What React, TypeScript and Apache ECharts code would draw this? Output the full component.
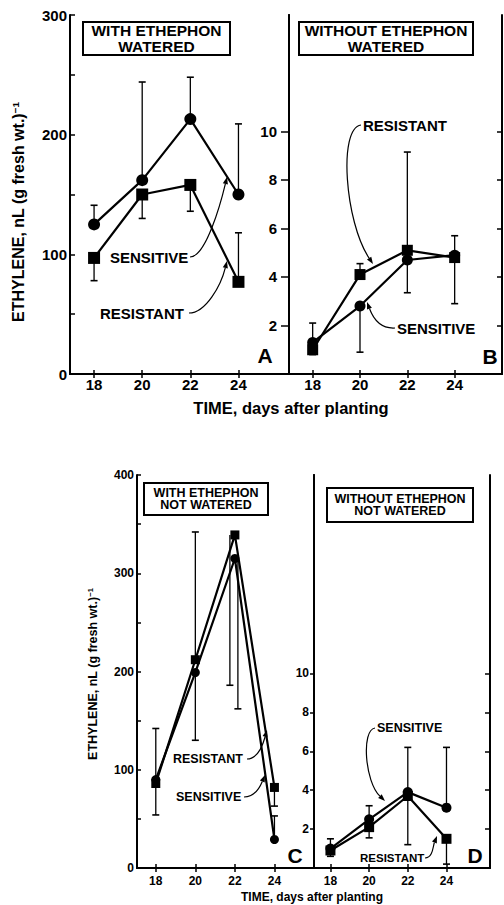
import React, { useEffect, useRef } from "react";
import * as echarts from "echarts";

// ---------- data ----------
const days = [18, 20, 22, 24];
const xTickValues = [18, 20, 22, 24];

const aSensitive = [125, 162, 213, 150];
const aSensitiveErr = [141, 244, 248, 209];
const aResistant = [97, 150, 158, 77];
const aResistantErr = [78, 130, 136, 118];

const bSensitive = [1.3, 2.8, 4.7, 4.9];
const bSensitiveErr = [2.1, 0.9, 3.35, 5.7];
const bResistant = [1.0, 4.1, 5.1, 4.8];
const bResistantErr = [0.8, 4.55, 9.15, 2.9];

const cSensitive = [90, 199, 315, 29];
const cSensitiveErr = [142, 130, 162, 53];
const cResistant = [86, 212, 339, 82];
const cResistantErr = [54, 342, 186, 63];

const dSensitive = [1.0, 2.5, 3.9, 3.1];
const dSensitiveErr = [1.5, 3.2, 6.2, 6.2];
const dResistant = [0.9, 2.1, 3.7, 1.5];
const dResistantErr = [0.6, 1.55, 1.2, 0.2];

const yTicksA = [0, 50, 100, 150, 200, 250, 300];
const yLabelsA = [0, 100, 200, 300];
const yLabelsB = [2, 4, 6, 8, 10];
const yTicksC = [0, 50, 100, 150, 200, 250, 300, 350, 400];
const yLabelsC = [0, 100, 200, 300, 400];
const yLabelsD = [2, 4, 6, 8, 10];

const FONT = '"Liberation Sans", Arial, Helvetica, sans-serif';

type Panel = {
  grid: { left: number; top: number; width: number; height: number };
  xMin: number;
  xMax: number;
  yMax: number;
  yLabels: number[];
  yTicks: number[];
  leftTickInside: boolean;
  leftTickLen: number;
  leftLabelMargin: number;
  rightTicks: boolean;
  sens: number[];
  sensErr: number[];
  res: number[];
  resErr: number[];
  fontSize: number;
  xLabelMargin: number;
  markerSize: number;
  sensOffset: number[];
  resOffset: number[];
};

const panels: Panel[] = [
  {
    grid: { left: 70, top: 15, width: 219, height: 359 },
    xMin: 17, xMax: 26.1, yMax: 300,
    yLabels: yLabelsA, yTicks: yTicksA,
    leftTickInside: true, leftTickLen: 5, leftLabelMargin: 3,
    rightTicks: false,
    sens: aSensitive, sensErr: aSensitiveErr, res: aResistant, resErr: aResistantErr,
    fontSize: 15, xLabelMargin: 3, markerSize: 12,
    sensOffset: [0, 0, 0, 0], resOffset: [0, 0, 0, 0],
  },
  {
    grid: { left: 289, top: 15, width: 213, height: 359 },
    xMin: 17, xMax: 26, yMax: 14.8,
    yLabels: yLabelsB, yTicks: yLabelsB,
    leftTickInside: false, leftTickLen: 8, leftLabelMargin: 12,
    rightTicks: true,
    sens: bSensitive, sensErr: bSensitiveErr, res: bResistant, resErr: bResistantErr,
    fontSize: 15, xLabelMargin: 3, markerSize: 11,
    sensOffset: [0, 0, 0, 0], resOffset: [0, 0, 0, 0],
  },
  {
    grid: { left: 137, top: 475, width: 177, height: 393 },
    xMin: 17.05, xMax: 26, yMax: 400,
    yLabels: yLabelsC, yTicks: yTicksC,
    leftTickInside: true, leftTickLen: 4, leftLabelMargin: 3,
    rightTicks: false,
    sens: cSensitive, sensErr: cSensitiveErr, res: cResistant, resErr: cResistantErr,
    fontSize: 12, xLabelMargin: 7, markerSize: 9,
    sensOffset: [0, 0, 3, 0], resOffset: [0, 0, -5, 0],
  },
  {
    grid: { left: 314, top: 475, width: 176, height: 393 },
    xMin: 17.15, xMax: 26.25, yMax: 20.2,
    yLabels: yLabelsD, yTicks: yLabelsD,
    leftTickInside: false, leftTickLen: 4, leftLabelMargin: 5,
    rightTicks: true,
    sens: dSensitive, sensErr: dSensitiveErr, res: dResistant, resErr: dResistantErr,
    fontSize: 12, xLabelMargin: 7, markerSize: 10,
    sensOffset: [0, 0, 0, 0], resOffset: [0, 0, 0, 0],
  },
];

function arrow(x1: number, y1: number, cx1: number, cy1: number, cx2: number, cy2: number, x2: number, y2: number) {
  const ang = Math.atan2(y2 - cy2, x2 - cx2);
  const L = 7, W = 2.6;
  const bx = x2 - L * Math.cos(ang), by = y2 - L * Math.sin(ang);
  const nx = -Math.sin(ang), ny = Math.cos(ang);
  return [
    {
      type: "bezierCurve",
      shape: { x1, y1, cpx1: cx1, cpy1: cy1, cpx2: cx2, cpy2: cy2, x2: bx, y2: by },
      style: { stroke: "#000", lineWidth: 1.2, fill: null },
    },
    {
      type: "polygon",
      shape: { points: [[x2, y2], [bx + nx * W, by + ny * W], [bx - nx * W, by - ny * W]] },
      style: { fill: "#000" },
    },
  ];
}

function label(x: number, y: number, text: string, size: number, align = "left") {
  return {
    type: "text",
    x, y,
    style: { text, fontFamily: FONT, fontWeight: "bold", fontSize: size, fill: "#000", align, verticalAlign: "middle" },
  };
}

function box(x: number, y: number, w: number, h: number, lines: string, size: number) {
  return [
    { type: "rect", shape: { x, y, width: w, height: h }, style: { fill: "#fff", stroke: "#000", lineWidth: 2 }, z: 50 },
    {
      type: "text", x: x + w / 2, y: y + h / 2, z: 51,
      style: { text: lines, fontFamily: FONT, fontWeight: "bold", fontSize: size, lineHeight: size * 1.0, fill: "#000", align: "center", verticalAlign: "middle" },
    },
  ];
}

function yTitle(x: number, y: number, size: number) {
  return {
    type: "text", x, y, rotation: Math.PI / 2,
    style: {
      text: "{a|ETHYLENE, nL (g fresh wt.)}{s|−1}",
      align: "center", verticalAlign: "middle",
      rich: {
        a: { fontFamily: FONT, fontWeight: "bold", fontSize: size, fill: "#000" },
        s: { fontFamily: FONT, fontWeight: "bold", fontSize: size * 0.62, fill: "#000", verticalAlign: "top" },
      },
    },
  };
}

export default function App() {
  const ref = useRef<HTMLDivElement>(null);
  useEffect(() => {
    if (!ref.current) return;
    const chart = echarts.init(ref.current, undefined, { renderer: "svg" });
    const grids: any[] = [];
    const xAxes: any[] = [];
    const yAxes: any[] = [];
    const series: any[] = [];
    panels.forEach((p, i) => {
      grids.push({ ...p.grid, containLabel: false });
      const axisLine = { show: true, lineStyle: { color: "#000", width: 2 } };
      xAxes.push({
        type: "value", gridIndex: i, min: p.xMin, max: p.xMax, position: "bottom",
        axisLine, splitLine: { show: false },
        axisTick: { show: true, inside: true, length: 4, customValues: xTickValues, lineStyle: { color: "#000", width: 1.5 } },
        axisLabel: { show: true, customValues: xTickValues, margin: p.xLabelMargin, fontFamily: FONT, fontWeight: "bold", fontSize: p.fontSize, color: "#000" },
      });
      xAxes.push({
        type: "value", gridIndex: i, min: p.xMin, max: p.xMax, position: "top",
        axisLine, splitLine: { show: false },
        axisTick: { show: true, inside: true, length: 4, customValues: xTickValues, lineStyle: { color: "#000", width: 1.5 } },
        axisLabel: { show: false },
      });
      yAxes.push({
        type: "value", gridIndex: i, min: 0, max: p.yMax, position: "left",
        axisLine, splitLine: { show: false },
        axisTick: { show: true, inside: p.leftTickInside, length: p.leftTickLen, customValues: p.yTicks, lineStyle: { color: "#000", width: 1.5 } },
        axisLabel: { show: true, customValues: p.yLabels, margin: p.leftLabelMargin, fontFamily: FONT, fontWeight: "bold", fontSize: p.fontSize, color: "#000" },
      });
      yAxes.push({
        type: "value", gridIndex: i, min: 0, max: p.yMax, position: "right",
        axisLine, splitLine: { show: false },
        axisTick: { show: p.rightTicks, inside: true, length: 5, customValues: p.yTicks, lineStyle: { color: "#000", width: 1.5 } },
        axisLabel: { show: false },
      });
      const xi = i * 2, yi = i * 2;
      const errSeries = (vals: number[], errs: number[], offs: number[]) => ({
        type: "custom", xAxisIndex: xi, yAxisIndex: yi, z: 1,
        data: days.map((d, k) => [d, vals[k], errs[k]]),
        encode: { x: 0, y: [1, 2] },
        renderItem: (params: any, api: any) => {
          const x = api.value(0), y0 = api.value(1), y1 = api.value(2);
          const p0 = api.coord([x, y0]);
          const p1 = api.coord([x, y1]);
          const px = p0[0] + offs[params.dataIndex];
          const cap = 3.5;
          return {
            type: "group",
            children: [
              { type: "line", shape: { x1: px, y1: p0[1], x2: px, y2: p1[1] }, style: { stroke: "#000", lineWidth: 1.3 } },
              { type: "line", shape: { x1: px - cap, y1: p1[1], x2: px + cap, y2: p1[1] }, style: { stroke: "#000", lineWidth: 1.6 } },
            ],
          };
        },
      });
      series.push(errSeries(p.sens, p.sensErr, p.sensOffset));
      series.push(errSeries(p.res, p.resErr, p.resOffset));
      series.push({
        type: "line", name: "SENSITIVE", xAxisIndex: xi, yAxisIndex: yi, z: 3,
        data: days.map((d, k) => [d, p.sens[k]]),
        symbol: "circle", symbolSize: p.markerSize,
        lineStyle: { color: "#000", width: 2.2 }, itemStyle: { color: "#000" },
      });
      series.push({
        type: "line", name: "RESISTANT", xAxisIndex: xi, yAxisIndex: yi, z: 3,
        data: days.map((d, k) => [d, p.res[k]]),
        symbol: "rect", symbolSize: p.markerSize,
        lineStyle: { color: "#000", width: 2.2 }, itemStyle: { color: "#000" },
      });
    });

    const graphic: any[] = [
      ...box(83, 22, 147, 33, "WITH ETHEPHON\nWATERED", 15.5),
      ...box(299, 22, 174, 33, "WITHOUT ETHEPHON\nWATERED", 15.5),
      ...box(144, 483, 124, 32, "WITH ETHEPHON\nNOT WATERED", 12.5),
      ...box(327, 488, 146, 34, "WITHOUT ETHEPHON\nNOT WATERED", 12.5),
      label(265, 355, "A", 21, "center"),
      label(490, 356, "B", 21, "center"),
      label(295, 855, "C", 21, "center"),
      label(475, 855, "D", 21, "center"),
      yTitle(18, 212, 16),
      yTitle(93, 674, 12.5),
      label(291, 408, "TIME, days after planting", 16.5, "center"),
      label(312, 897, "TIME, days after planting", 12, "center"),
      // panel A annotations
      label(110, 257, "SENSITIVE", 15),
      ...arrow(190, 257, 206, 257, 221, 202, 227, 177),
      label(100, 313, "RESISTANT", 15),
      ...arrow(189, 313, 206, 313, 221, 285, 227, 261),
      // panel B annotations
      label(363, 125, "RESISTANT", 15),
      ...arrow(361, 125, 338, 128, 345, 222, 373, 264),
      label(397, 328, "SENSITIVE", 15),
      ...arrow(395, 328, 380, 329, 373, 318, 367, 302),
      // panel C annotations
      label(173, 759, "RESISTANT", 12.5),
      ...arrow(247, 759, 257, 759, 262, 748, 267, 730),
      label(176, 797, "SENSITIVE", 12.5),
      ...arrow(244, 797, 255, 797, 260, 787, 265, 775),
      // panel D annotations
      label(377, 728, "SENSITIVE", 12.5),
      ...arrow(375, 728, 361, 730, 365, 782, 385, 801),
      label(360, 858, "RESISTANT", 11.5),
      ...arrow(425, 858, 433, 858, 433, 846, 437, 836),
    ];

    chart.setOption({
      animation: false,
      backgroundColor: "#fff",
      grid: grids,
      xAxis: xAxes,
      yAxis: yAxes,
      series,
      graphic,
    });
    return () => chart.dispose();
  }, []);
  return <div ref={ref} style={{ position: "absolute", left: 0, top: 0, width: 504, height: 905 }} />;
}
